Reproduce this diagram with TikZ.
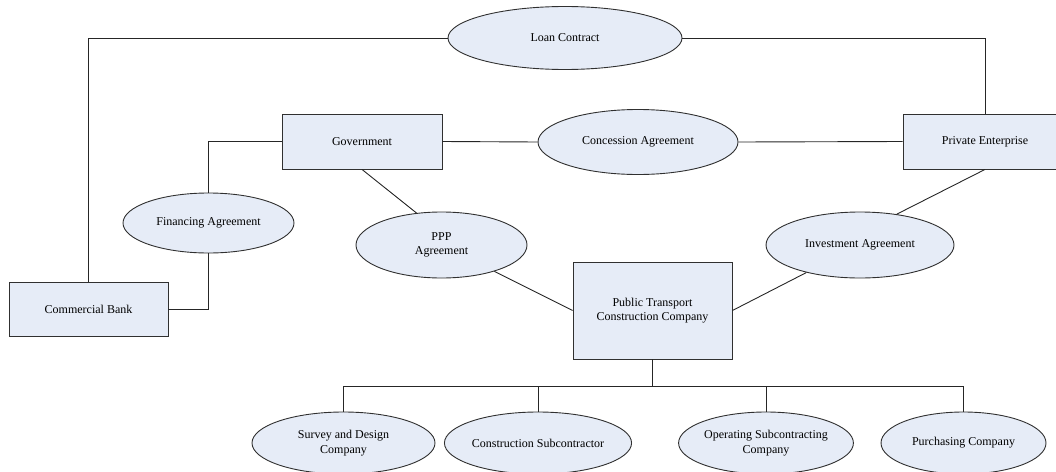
\documentclass[tikz,border=0pt]{standalone}
\usepackage{fontspec}
\setmainfont{Liberation Serif}
\usetikzlibrary{shapes.geometric}
\definecolor{boxfill}{HTML}{E6ECF7}
\definecolor{edgecol}{HTML}{303030}
\tikzset{
  basebox/.style={draw=edgecol, line width=0.9pt, fill=boxfill, inner sep=0pt, align=center,
     font=\fontsize{12}{14.5}\selectfont},
  rectbox/.style={basebox, rectangle},
  ovalbox/.style={basebox, ellipse},
  link/.style={draw=black!85, line width=0.9pt}
}
\begin{document}
\begin{tikzpicture}[x=1pt,y=-1pt]
\useasboundingbox (0,0) rectangle (1056,471);
% rectangles
\node[rectbox, minimum width=160pt, minimum height=55pt] (gov) at (362,141.5) {Government};
\node[rectbox, minimum width=164pt, minimum height=55pt] (pe) at (985,141.5) {Private Enterprise};
\node[rectbox, minimum width=159pt, minimum height=54pt] (bank) at (88.5,309) {Commercial Bank};
\node[rectbox, minimum width=159pt, minimum height=97pt] (ptcc) at (652.5,310.5) {Public Transport\\Construction Company};
% ellipses
\node[ovalbox, minimum width=234pt, minimum height=63pt] (loan) at (565,38) {Loan Contract};
\node[ovalbox, minimum width=200pt, minimum height=65pt] (conc) at (638,142) {Concession Agreement};
\node[ovalbox, minimum width=171pt, minimum height=60pt] (fin) at (208.5,223) {Financing Agreement};
\node[ovalbox, minimum width=171pt, minimum height=66pt] (ppp) at (441.5,245) {PPP\\Agreement};
\node[ovalbox, minimum width=188pt, minimum height=66pt] (inv) at (860,245) {Investment Agreement};
\node[ovalbox, minimum width=183pt, minimum height=62pt] (sd) at (343.5,443) {Survey and Design\\Company};
\node[ovalbox, minimum width=170pt, minimum height=62pt] (cs) at (538,443) {Construction Subcontractor};
\node[ovalbox, minimum width=172pt, minimum height=62pt] (os) at (766,443) {Operating Subcontracting\\Company};
\node[ovalbox, minimum width=165pt, minimum height=62pt] (pc) at (963.5,443) {Purchasing Company};
% connectors
\draw[link] (bank.north) |- (loan.west);
\draw[link] (loan.east) -| (pe.north);
\draw[link] (gov.east) -- (conc.west);
\draw[link] (conc.east) -- (pe.west);
\draw[link] (gov.west) -| (fin.north);
\draw[link] (fin.south) |- (bank.east);
\draw[link] (gov.south) -- (ppp.128);
\draw[link] (pe.south) -- (inv.40);
\draw[link] (ppp) -- (ptcc.west);
\draw[link] (inv) -- (ptcc.east);
\coordinate (bus) at (652.5,386);
\draw[link] (ptcc.south) -- (bus);
\draw[link] (sd.north) -- (sd.north |- bus) -- (pc.north |- bus) -- (pc.north);
\draw[link] (cs.north) -- (cs.north |- bus);
\draw[link] (os.north) -- (os.north |- bus);
\end{tikzpicture}
\end{document}
